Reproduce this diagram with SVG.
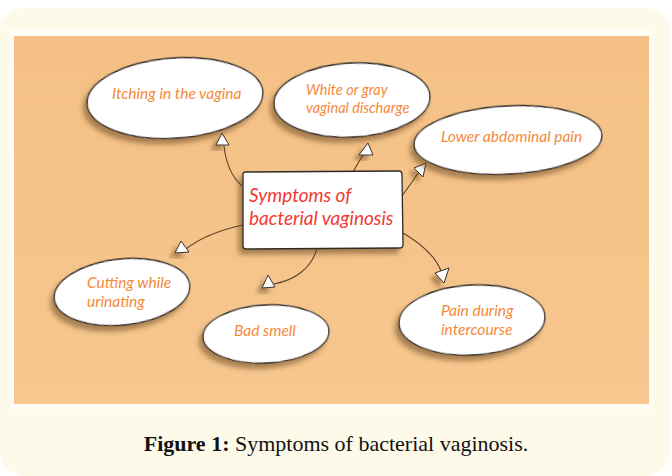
<svg xmlns="http://www.w3.org/2000/svg" width="672" height="476" viewBox="0 0 672 476">
<defs>
<filter id="sh" x="-20%" y="-20%" width="140%" height="150%">
<feDropShadow dx="-4" dy="5" stdDeviation="2.5" flood-color="#6b4a24" flood-opacity="0.55"/>
</filter>
<filter id="ash" x="-50%" y="-50%" width="200%" height="200%">
<feDropShadow dx="-5" dy="5" stdDeviation="2" flood-color="#6b4a24" flood-opacity="0.5"/>
</filter>
<linearGradient id="og" x1="0" y1="0" x2="0" y2="1">
<stop offset="0" stop-color="#f4c085"/>
<stop offset="1" stop-color="#f6c78f"/>
</linearGradient>
</defs>
<style>
.bub{fill:#ffffff;stroke:#2e2a26;stroke-width:1.3;filter:url(#sh)}
.lbl{font-family:Lato,"Open Sans",sans-serif;font-style:italic;font-size:15.5px;fill:#f5893a}
.sm{font-size:14.5px}
.ttl{font-family:Lato,"Open Sans",sans-serif;font-style:italic;font-size:19px;fill:#f23a33}
.ln{fill:none;stroke:#5a4128;stroke-width:1.1}
.ah{fill:#ffffff;stroke:#3a3026;stroke-width:1;filter:url(#ash)}
.cap{font-family:"Liberation Serif","DejaVu Serif",serif;font-size:22px;fill:#111}
</style>
<rect x="0" y="0" width="672" height="476" fill="#ffffff"/>
<rect x="0" y="8" width="670" height="468" rx="24" fill="#fefaea"/>
<rect x="10" y="30" width="643" height="379" fill="#fffdf6"/>
<rect x="14" y="36" width="635" height="368" fill="url(#og)"/>

<g id="connectors">
<path class="ln" d="M242,186 C232,177 226,165 224,146"/>
<path class="ln" d="M353,172 Q358,163 363,155"/>
<path class="ln" d="M402,196 L419,172"/>
<path class="ln" d="M243,225 C220,230 200,238 186,249"/>
<path class="ln" d="M317,248 C312,268 295,280 274,284"/>
<path class="ln" d="M403,233 C420,243 435,255 441,271"/>
<polygon class="ah" points="222,133 216,145 229,145"/>
<polygon class="ah" points="368,143 359,155 373,155"/>
<polygon class="ah" points="426,163 414,168 423,177"/>
<polygon class="ah" points="181,241 175,253 189,252"/>
<polygon class="ah" points="268,275 262,288 275,287"/>
<polygon class="ah" points="435,273 449,268 444,283"/>
</g>

<g id="n-itching">
<ellipse class="bub" cx="175" cy="98" rx="88" ry="40" transform="rotate(-4 175 98)"/>
<text class="lbl" x="112" y="99">Itching in the vagina</text>
</g>
<g id="n-discharge">
<ellipse class="bub" cx="352" cy="100" rx="78" ry="37" transform="rotate(-3 352 100)"/>
<text class="lbl sm" x="306" y="95">White or gray</text>
<text class="lbl sm" x="306" y="113">vaginal discharge</text>
</g>
<g id="n-abdominal">
<ellipse class="bub" cx="508" cy="140" rx="94" ry="34" transform="rotate(-3 508 140)"/>
<text class="lbl" x="441" y="142">Lower abdominal pain</text>
</g>
<g id="n-center">
<path d="M243,174 Q243,172 246,172 L399,171 Q402,171 402,175 L403,245 Q403,248 399,248 L246,249 Q243,249 243,246 Z" fill="#ffffff" stroke="#2e2a26" stroke-width="1.3" filter="url(#sh)"/>
<text class="ttl" x="249" y="202">Symptoms of</text>
<text class="ttl" x="249" y="225">bacterial vaginosis</text>
</g>
<g id="n-cutting">
<ellipse class="bub" cx="122" cy="292" rx="68" ry="33" transform="rotate(-6 122 292)"/>
<text class="lbl" x="87" y="288">Cutting while</text>
<text class="lbl" x="87" y="307">urinating</text>
</g>
<g id="n-smell">
<ellipse class="bub" cx="266" cy="334" rx="63" ry="29" transform="rotate(-3 266 334)"/>
<text class="lbl" x="234" y="336">Bad smell</text>
</g>
<g id="n-pain">
<ellipse class="bub" cx="472" cy="320" rx="73" ry="35" transform="rotate(-3 472 320)"/>
<text class="lbl" x="441" y="316">Pain during</text>
<text class="lbl" x="441" y="335">intercourse</text>
</g>

<text class="cap" x="336" y="451" text-anchor="middle"><tspan font-weight="bold">Figure 1:</tspan> Symptoms of bacterial vaginosis.</text>
</svg>
